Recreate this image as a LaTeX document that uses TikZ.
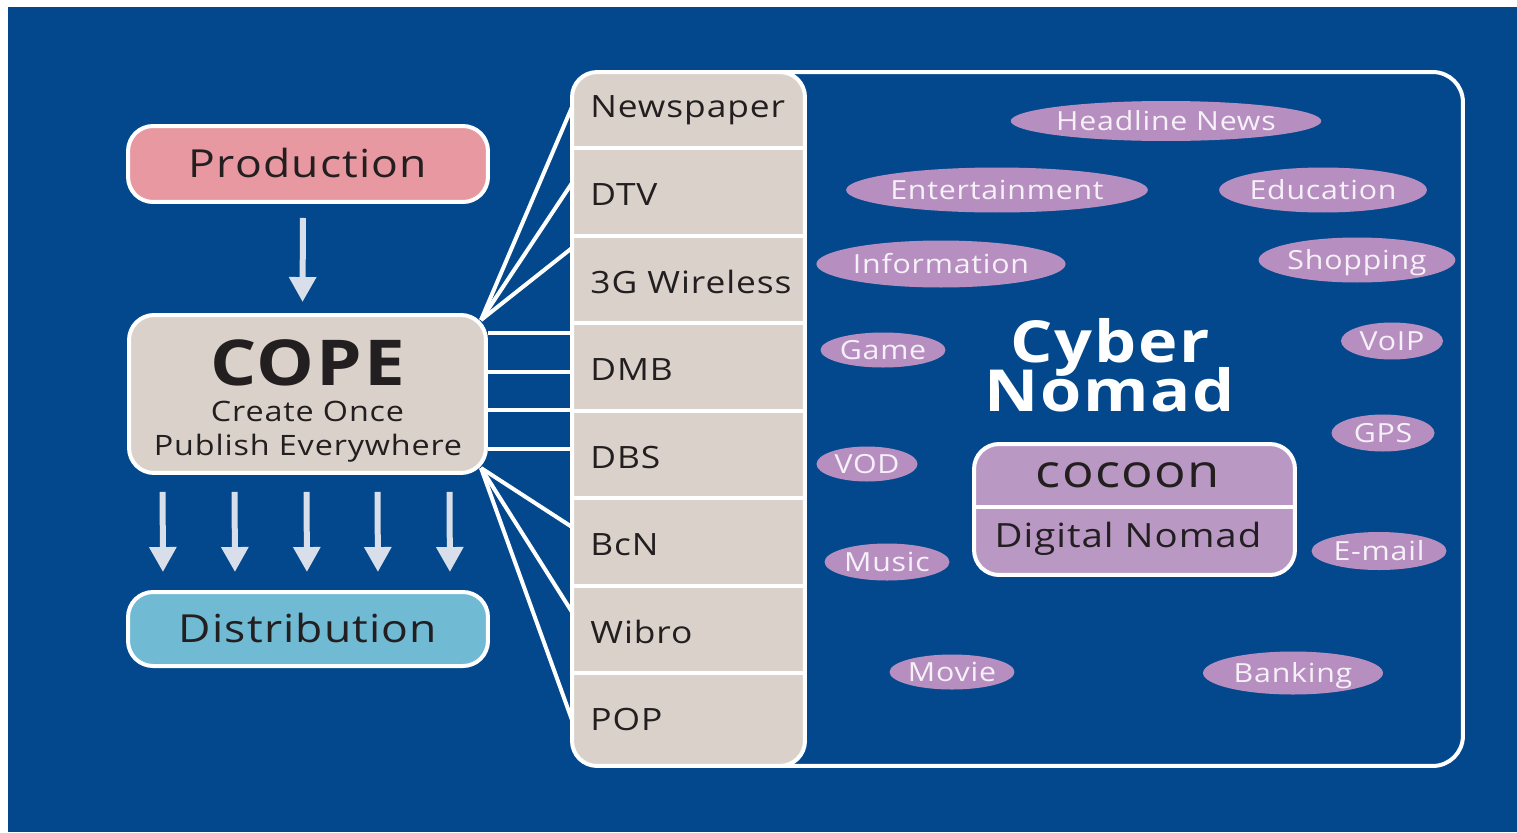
\documentclass[tikz,border=0pt]{standalone}
\usepackage{fontspec}
\setmainfont{Open Sans}[FakeStretch=1.15,LetterSpace=3]
\usetikzlibrary{shapes.geometric,arrows.meta}
\pgfdeclarelayer{back}
\pgfdeclarelayer{wires}
\pgfsetlayers{back,wires,main}

\definecolor{navy}{RGB}{3,72,140}
\definecolor{pinkfill}{RGB}{232,152,160}
\definecolor{stone}{RGB}{218,210,202}
\definecolor{skyfill}{RGB}{112,186,212}
\definecolor{lilac}{RGB}{182,143,192}
\definecolor{lilacbox}{RGB}{186,152,196}
\definecolor{ink}{RGB}{35,31,32}
\definecolor{arrowgray}{RGB}{216,223,234}
\definecolor{ovaltext}{RGB}{246,240,248}

% bold title face with tight, fixed line spacing
\newcommand\titleface{\fontsize{33}{27.8}\selectfont\bfseries\lineskiplimit=-40pt\relax\lineskip=0pt\relax}

\begin{document}
\begin{tikzpicture}[x=0.02cm,y=-0.02cm,
  box/.style={rectangle, rounded corners=0.5cm, draw=white, line width=0.08cm,
    text=ink, inner sep=0pt, text depth=0pt},
  blabel/.style={font=\fontsize{22}{26}\selectfont, text height=15.7pt},
  medium/.style={anchor=base west, inner sep=0pt, text=ink, font=\fontsize{17.5}{20}\selectfont},
  cope text/.style={anchor=base, inner sep=0pt, text=ink},
  title text/.style={anchor=base, inner sep=0pt, text=white, align=center, font=\titleface},
  oval/.style={ellipse, fill=lilac, text=ovaltext, inner sep=0pt,
    font=\fontsize{15}{18}\selectfont, text height=10.7pt, text depth=0pt},
  wire/.style={draw=white, line width=0.08cm},
  divider/.style={draw=white, line width=0.08cm},
  arr/.style={draw=arrowgray, line width=0.12cm, -{Triangle[width=0.52cm,length=0.5cm]}}
]
\useasboundingbox (0,0) rectangle (1517,832);

\begin{pgfonlayer}{back}
  \fill[white] (0,0) rectangle (1517,832);
  \fill[navy] (8,7) rectangle (1517,832);
\end{pgfonlayer}

% left column: production, COPE, distribution
\node[box, fill=pinkfill, blabel, minimum width=7.2cm, minimum height=1.52cm] (prod) at (308,164) {Production};
\node[box, fill=stone, minimum width=7.14cm, minimum height=3.16cm] (cope) at (307.5,394) {};
\node[cope text, font=\fontsize{36}{40}\selectfont\bfseries] (copetitle) at (307.5,385) {COPE};
\node[cope text, font=\fontsize{16}{19}\selectfont] (copeline1) at (307.5,421) {Create Once};
\node[cope text, font=\fontsize{16}{19}\selectfont] (copeline2) at (308,455) {Publish Everywhere};
\node[box, fill=skyfill, blabel, minimum width=7.2cm, minimum height=1.48cm] (dist) at (308,629) {Distribution};

\draw[arr, shorten <=0.28cm, shorten >=0.22cm] ([xshift=-0.1cm]prod.south) -- ([xshift=-0.1cm]cope.north);
\foreach \dx in {-2.9,-1.46,-0.02,1.4,2.84}
  \draw[arr, shorten <=0.34cm, shorten >=0.36cm] ([xshift=\dx cm]cope.south) -- ([xshift=\dx cm]dist.north);

% outer frame and media column
\node[rectangle, rounded corners=0.6cm, draw=white, line width=0.08cm, inner sep=0pt,
  minimum width=17.82cm, minimum height=13.88cm] (frame) at (1017.5,419) {};
\node[box, fill=stone, minimum width=4.66cm, minimum height=13.88cm] (col) at (688.5,419) {};
\foreach \yy in {148,236,323,411,498,586,673}
  \draw[divider] (col.west |- 0,\yy) -- (col.east |- 0,\yy);

\node[medium] (m1) at (590,117) {Newspaper};
\node[medium] (m2) at (590,205) {DTV};
\node[medium] (m3) at (590,293) {3G Wireless};
\node[medium] (m4) at (590,380) {DMB};
\node[medium] (m5) at (590,468) {DBS};
\node[medium] (m6) at (590,555) {BcN};
\node[medium] (m7) at (590,643) {Wibro};
\node[medium] (m8) at (590,730) {POP};

% connectors from COPE to the media column
\coordinate (fanhi) at (481,320);
\coordinate (fanlo) at (481,468);
\coordinate (t1) at (572,107);
\coordinate (t2) at (572,183);
\coordinate (t3) at (572,248);
\coordinate (t4) at (572,333);
\coordinate (t5) at (572,372);
\coordinate (t6) at (572,410);
\coordinate (t7) at (572,449);
\coordinate (t8) at (572,527);
\coordinate (t9) at (572,612);
\coordinate (t10) at (572,720);
\begin{pgfonlayer}{wires}
  \foreach \t in {t1,t2,t3} \draw[wire] (fanhi) -- (\t);
  \foreach \t in {t4,t5,t6,t7} \draw[wire] (cope.east |- \t) -- (\t);
  \foreach \t in {t8,t9,t10} \draw[wire] (fanlo) -- (\t);
\end{pgfonlayer}

% services
\node[oval, minimum width=5.36cm, minimum height=0.8cm]  (o1)  at (1166,121) {Headline News};
\node[oval, minimum width=5.4cm,  minimum height=0.9cm]  (o2)  at (997,190)  {Entertainment};
\node[oval, minimum width=3.8cm,  minimum height=0.9cm]  (o3)  at (1323,190) {Education};
\node[oval, minimum width=4.66cm, minimum height=0.94cm] (o4)  at (941,264)  {Information};
\node[oval, minimum width=3.8cm,  minimum height=0.9cm]  (o5)  at (1357,260) {Shopping};
\node[oval, minimum width=2.04cm, minimum height=0.74cm] (o6)  at (1392,341) {VoIP};
\node[oval, minimum width=2.5cm,  minimum height=0.7cm]  (o7)  at (883,350)  {Game};
\node[oval, minimum width=2.06cm, minimum height=0.74cm] (o8)  at (1383,433) {GPS};
\node[oval, minimum width=2.02cm, minimum height=0.7cm]  (o9)  at (867,464)  {VOD};
\node[oval, minimum width=2.7cm,  minimum height=0.76cm] (o10) at (1379,551) {E-mail};
\node[oval, minimum width=2.5cm,  minimum height=0.74cm] (o11) at (887,562)  {Music};
\node[oval, minimum width=2.5cm,  minimum height=0.7cm]  (o12) at (952,672)  {Movie};
\node[oval, minimum width=3.6cm,  minimum height=0.86cm] (o13) at (1293,673) {Banking};

% centre title and cocoon box (base anchor sits on the second line)
\node[title text] (cybernomad) at (1110,411) {Cyber\\Nomad};
\node[box, fill=lilacbox, minimum width=6.42cm, minimum height=2.62cm] (cocoonbox) at (1134.5,509.5) {};
\draw[divider] (cocoonbox.west |- 0,507) -- (cocoonbox.east |- 0,507);
\node[anchor=base, inner sep=0pt, text=ink, font=\fontsize{26}{30}\selectfont] (cocoon) at (1128,487) {cocoon};
\node[anchor=base, inner sep=0pt, text=ink, font=\fontsize{19}{22}\selectfont] (digital) at (1128,547) {Digital Nomad};
\end{tikzpicture}
\end{document}
